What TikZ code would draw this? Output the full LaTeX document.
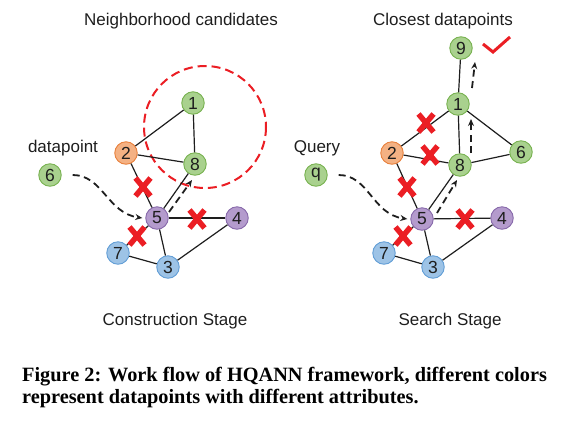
\documentclass[tikz,border=0pt]{standalone}
\usepackage{fontspec}
\setmainfont{Liberation Sans}
\newfontfamily\capfont{Liberation Serif}
\usetikzlibrary{arrows.meta}
\definecolor{gfill}{RGB}{169,209,142}
\definecolor{gline}{RGB}{120,178,80}
\definecolor{ofill}{RGB}{244,177,131}
\definecolor{oline}{RGB}{232,128,60}
\definecolor{bfill}{RGB}{157,195,230}
\definecolor{bline}{RGB}{98,158,214}
\definecolor{pfill}{RGB}{180,155,205}
\definecolor{pline}{RGB}{135,105,170}
\definecolor{xred}{RGB}{235,30,36}
\definecolor{ink}{RGB}{30,30,30}
\tikzset{
  pt/.style={circle, draw, line width=0.9pt, minimum size=22.5pt, inner sep=0pt,
    text=ink, font=\fontsize{17.5}{17.5}\selectfont},
  gpt/.style={pt, fill=gfill, draw=gline},
  opt/.style={pt, fill=ofill, draw=oline},
  bpt/.style={pt, fill=bfill, draw=bline},
  ppt/.style={pt, fill=pfill, draw=pline},
  lbl/.style={text=ink, font=\fontsize{17}{17}\selectfont, inner sep=0pt},
  edge/.style={line width=1.2pt, ink},
  flow/.style={line width=1.8pt, ink, dash pattern=on 7pt off 4.5pt,
    -{Stealth[length=7pt,width=6pt]}},
  xmark/.pic={\draw[xred, line width=5.5pt] (-7.5,-9) -- (7.5,9) (-7.5,9) -- (7.5,-9);}
}
\begin{document}
\begin{tikzpicture}[x=1pt, y=-1pt]
\useasboundingbox (0,0) rectangle (572,421);
% construction stage
\node (lt) at (181,25) [lbl, anchor=base] {Neighborhood candidates};
\node (ld) at (63,152) [lbl, anchor=base] {datapoint};
\node (lb) at (175,325) [lbl, anchor=base] {Construction Stage};
\draw[xred, line width=2pt, dash pattern=on 9pt off 5pt] (205,127) circle (61);
\node[gpt] (l1) at (193,103) {1};
\node[opt] (l2) at (126,153) {2};
\node[gpt] (l8) at (195,164) {8};
\node[gpt] (l6) at (50,175) {6};
\node[ppt] (l5) at (157,218) {5};
\node[ppt] (l4) at (237,218) {4};
\node[bpt] (l7) at (118,253) {7};
\node[bpt] (l3) at (168,267) {3};
\draw[edge] (l1) -- (l2);
\draw[edge] (l1) -- (l8);
\draw[edge] (l2) -- (l8);
\draw[edge] (l2) -- (l5);
\draw[edge] (l5) -- (l8);
\draw[edge] (l5) -- (l4);
\draw[edge] (l5) -- (l7);
\draw[edge] (l5) -- (l3);
\draw[edge] (l7) -- (l3);
\draw[edge] (l3) -- (l4);
\draw[flow] ([xshift=11pt]l6.east) .. controls +(30,0) and +(-35,-5) .. ([xshift=-3pt]l5.west);
\draw[flow] ([shift={(12,-6)}]l5.center) -- ([shift={(-3,16)}]l8.center);
\pic at (143,187) {xmark};
\pic at (197,219) {xmark};
\pic at (137,236) {xmark};
% search stage
\node (rt) at (443,25) [lbl, anchor=base] {Closest datapoints};
\node (rq) at (317,152) [lbl, anchor=base] {Query};
\node (rb) at (450,325) [lbl, anchor=base] {Search Stage};
\node[gpt] (r9) at (461,48) {9};
\node[gpt] (r1) at (458,104) {1};
\node[opt] (r2) at (392,153) {2};
\node[gpt] (r8) at (460,165) {8};
\node[gpt] (r6) at (521,152) {6};
\node[gpt] (q) at (316,175) {q};
\node[ppt] (r5) at (422,219) {5};
\node[ppt] (r4) at (502,218) {4};
\node[bpt] (r7) at (384,253) {7};
\node[bpt] (r3) at (433,267) {3};
\draw[edge] (r9) -- (r1);
\draw[edge] (r1) -- (r2);
\draw[edge] (r1) -- (r8);
\draw[edge] (r1) -- (r6);
\draw[edge] (r2) -- (r8);
\draw[edge] (r8) -- (r6);
\draw[edge] (r2) -- (r5);
\draw[edge] (r5) -- (r8);
\draw[edge] (r5) -- (r4);
\draw[edge] (r5) -- (r7);
\draw[edge] (r5) -- (r3);
\draw[edge] (r7) -- (r3);
\draw[edge] (r3) -- (r4);
\draw[flow] ([xshift=11pt]q.east) .. controls +(30,0) and +(-35,-5) .. ([xshift=-3pt]r5.west);
\draw[flow] ([shift={(15,-6)}]r5.center) -- ([shift={(-3,15)}]r8.center);
\draw[flow] ([shift={(11,-12)}]r8.center) -- ([shift={(13,15)}]r1.center);
\draw[flow] ([shift={(14,-16)}]r1.center) -- ([shift={(14,14)}]r9.center);
\pic at (426,123) {xmark};
\pic at (430,155) {xmark};
\pic at (407,187) {xmark};
\pic at (465,219) {xmark};
\pic at (403,236) {xmark};
\draw[xred, line width=3pt] (483,44) -- (493,52) -- (510,37);
% caption
\node (cap1) at (22,381) [anchor=base west, inner sep=0pt, text=black,
  font=\capfont\bfseries\fontsize{20.3}{22}\selectfont] {Figure 2: Work flow of HQANN framework, different colors};
\node (cap2) at (22,403) [anchor=base west, inner sep=0pt, text=black,
  font=\capfont\bfseries\fontsize{20.3}{22}\selectfont] {represent datapoints with different attributes.};
\end{tikzpicture}
\end{document}
